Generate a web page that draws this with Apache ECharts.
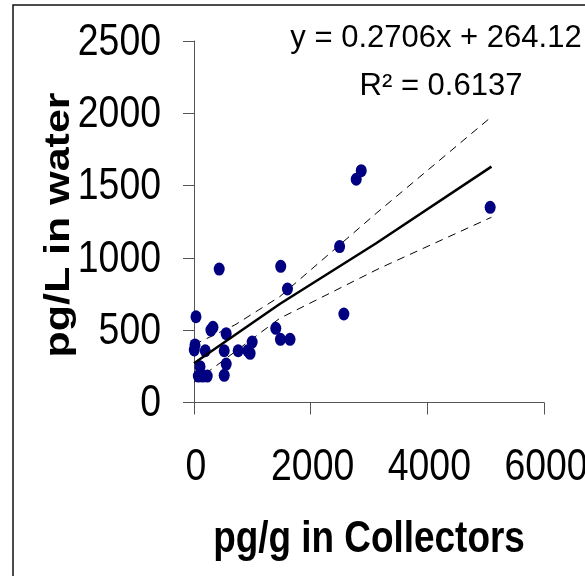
<!DOCTYPE html>
<html>
<head>
<meta charset="utf-8">
<script src="https://cdn.jsdelivr.net/npm/echarts@6/dist/echarts.min.js"></script>
<style>
html,body{margin:0;padding:0;background:#fff;}
#chart{width:585px;height:576px;}
</style>
</head>
<body>
<div id="chart"></div>
<script>
// Observed data (x: pg/g in Collectors, y: pg/L in water)
var pointsX = [34, 290, 325, 552, 17, 5, 193, 518, 757, 923, 962, 997, 552, 103, 74, 149, 227, 518, 432, 1487, 1602, 1402, 1482, 1646, 2496, 2569, 2781, 2867, 5077];
var pointsY = [593, 501, 520, 476, 398, 363, 358, 358, 358, 358, 340, 418, 266, 248, 183, 183, 183, 188, 923, 942, 785, 513, 437, 437, 1078, 612, 1544, 1603, 1350];

// Regression line and confidence bands
var fitX = [0, 1470, 3123, 5099];
var fitY = [271, 681, 1101, 1631];
var upperX = [0, 700, 1470, 3123, 5094];
var upperY = [400, 536, 732, 1308, 1974];
var lowerX = [0, 500, 1470, 3179, 5099];
var lowerY = [140, 290, 582, 928, 1281];

var xTicks = [0, 2000, 4000, 6000];
var yTicks = [0, 500, 1000, 1500, 2000, 2500];

var equationText = 'y = 0.2706x + 264.12';
var r2Text = 'R\u00B2 = 0.6137';
var xTitle = 'pg/g in Collectors';
var yTitle = 'pg/L in water';

function pairs(xs, ys) { return xs.map(function (x, i) { return [x, ys[i]]; }); }

var axisColor = '#555555';
var FONT = "'Liberation Sans', Arial, sans-serif";

var chart = echarts.init(document.getElementById('chart'), null, {renderer: 'canvas'});
chart.setOption({
  backgroundColor: '#ffffff',
  animation: false,
  grid: {left: 194, right: 41, top: 41, bottom: 173.5, containLabel: false, outerBoundsMode: 'none'},
  xAxis: {
    type: 'value', min: xTicks[0], max: xTicks[xTicks.length - 1], interval: xTicks[1] - xTicks[0],
    axisLine: {show: true, onZero: false, lineStyle: {color: axisColor, width: 1}},
    axisTick: {show: true, length: 12, lineStyle: {color: axisColor, width: 1}},
    axisLabel: {show: false},
    splitLine: {show: false}
  },
  yAxis: {
    type: 'value', min: yTicks[0], max: yTicks[yTicks.length - 1], interval: yTicks[1] - yTicks[0],
    axisLine: {show: true, onZero: false, lineStyle: {color: axisColor, width: 1}},
    axisTick: {show: true, length: 11, lineStyle: {color: axisColor, width: 1}},
    axisLabel: {show: false},
    splitLine: {show: false}
  },
  series: [
    {type: 'line', data: pairs(upperX, upperY), showSymbol: false, smooth: false,
     lineStyle: {color: '#000', width: 1, type: [8, 6]}, z: 3},
    {type: 'line', data: pairs(lowerX, lowerY), showSymbol: false, smooth: false,
     lineStyle: {color: '#000', width: 1, type: [8, 6]}, z: 3},
    {type: 'scatter', data: pairs(pointsX, pointsY), symbol: 'circle', symbolSize: [11, 13],
     itemStyle: {color: '#000080', opacity: 1}, z: 4},
    {type: 'line', data: pairs(fitX, fitY), showSymbol: false, smooth: false,
     lineStyle: {color: '#000', width: 2.5}, z: 5}
  ]
});

// Tick labels and titles as (horizontally condensed) text, positioned via the axis scales
var g = [
  {type: 'rect', z: -10, silent: true, shape: {x: 13, y: 5, width: 700, height: 700},
   style: {fill: 'none', stroke: '#111', lineWidth: 1.5}},
  {type: 'text', silent: true, x: 436, y: 38.5,
   style: {text: equationText, x: 0, y: 0, align: 'center', verticalAlign: 'middle', font: '31px ' + FONT, fill: '#000'}},
  {type: 'text', silent: true, x: 441, y: 86,
   style: {text: r2Text, x: 0, y: 0, align: 'center', verticalAlign: 'middle', font: '31px ' + FONT, fill: '#000'}},
  {type: 'text', silent: true, x: 369, y: 540, scaleX: 0.82,
   style: {text: xTitle, x: 0, y: 0, align: 'center', verticalAlign: 'middle', font: 'bold 45px ' + FONT, fill: '#000'}},
  {type: 'text', silent: true, x: 59, y: 225, rotation: Math.PI / 2, scaleY: 0.82,
   style: {text: yTitle, x: 0, y: 0, align: 'center', verticalAlign: 'middle', font: 'bold 43px ' + FONT, fill: '#000'}}
];
var axisY0 = chart.convertToPixel({yAxisIndex: 0}, yTicks[0]);
var axisX0 = chart.convertToPixel({xAxisIndex: 0}, xTicks[0]);
xTicks.forEach(function (v) {
  var px = chart.convertToPixel({xAxisIndex: 0}, v);
  g.push({type: 'text', silent: true, x: px + 2, y: axisY0 + 65, scaleX: 0.85,
    style: {text: String(v), x: 0, y: 0, align: 'center', verticalAlign: 'middle', font: '44px ' + FONT, fill: '#000'}});
});
yTicks.forEach(function (v) {
  var py = chart.convertToPixel({yAxisIndex: 0}, v);
  g.push({type: 'text', silent: true, x: axisX0 - 33, y: py + 1.5, scaleX: 0.85,
    style: {text: String(v), x: 0, y: 0, align: 'right', verticalAlign: 'middle', font: '44px ' + FONT, fill: '#000'}});
});
chart.setOption({graphic: g});
</script>
</body>
</html>
